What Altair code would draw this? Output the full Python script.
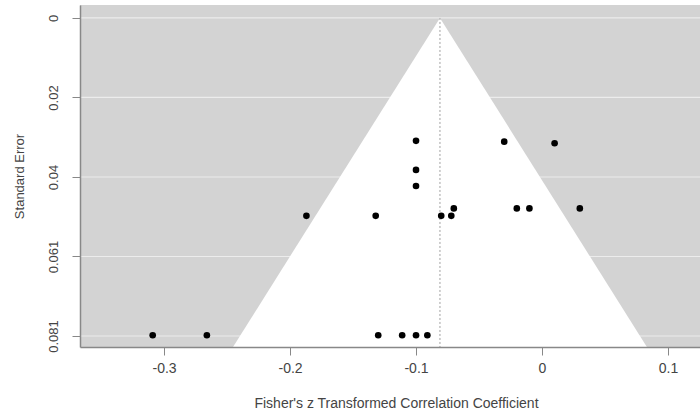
import json
import altair as alt
import pandas as pd

# ---- data ----
estimates = [-0.100, -0.030, 0.010, -0.100, -0.100,
             -0.070, -0.020, -0.010, 0.030,
             -0.187, -0.132, -0.080, -0.072,
             -0.309, -0.266, -0.130, -0.111, -0.100, -0.091]
std_errors = [0.0313, 0.0315, 0.0319, 0.0387, 0.0428,
              0.0485, 0.0485, 0.0485, 0.0485,
              0.0504, 0.0504, 0.0504, 0.0504,
              0.0808, 0.0808, 0.0808, 0.0808, 0.0808, 0.0808]

pooled = -0.081          # funnel centre (summary estimate)
z_crit = 1.96

y_ticks = [0, 0.02025, 0.0405, 0.06075, 0.081]
y_labels = ["0", "0.02", "0.04", "0.061", "0.081"]
x_ticks = [-0.3, -0.2, -0.1, 0, 0.1]
x_labels = ["-0.3", "-0.2", "-0.1", "0", "0.1"]

x_domain = [-0.3667, 0.1254]
y_domain = [-0.0033, 0.0838]

# ---- tables ----
points = pd.DataFrame({"est": estimates, "se": std_errors})
se_max = y_domain[1]
funnel = pd.DataFrame({
    "se": [0.0, se_max],
    "lo": [pooled, pooled - z_crit * se_max],
    "hi": [pooled, pooled + z_crit * se_max],
})
centre = pd.DataFrame({"c": [pooled], "s0": [0.0], "s1": [se_max]})
grid = pd.DataFrame({"v": y_ticks})

TXT = "#444444"
FONT = "Liberation Sans"

xscale = alt.Scale(domain=x_domain, nice=False, zero=False)
yscale = alt.Scale(domain=y_domain, nice=False, zero=False, reverse=True)

xaxis = alt.Axis(
    values=x_ticks,
    labelExpr=f"{json.dumps(x_labels)}[indexof({json.dumps(x_ticks)}, datum.value)]",
    title="Fisher's z Transformed Correlation Coefficient",
    titleFont=FONT, titleFontSize=14, titleFontWeight="normal", titleColor=TXT,
    titleX=316, titleY=56, titleAnchor="middle", titleAlign="center", titleBaseline="middle",
    labelFont=FONT, labelFontSize=14, labelColor=TXT, labelPadding=6,
    tickSize=8, tickColor="#888888", domainColor="#888888", domainWidth=1.5,
    grid=False, zindex=1,
)
yaxis = alt.Axis(
    values=y_ticks,
    labelExpr=f"{json.dumps(y_labels)}[indexof({json.dumps(y_ticks)}, datum.value)]",
    title="Standard Error",
    titleFont=FONT, titleFontSize=13, titleFontWeight="normal", titleColor=TXT,
    titleAngle=270, titleX=-61, titleY=171, titleAlign="center", titleBaseline="middle",
    labelFont=FONT, labelFontSize=13, labelColor=TXT, labelAngle=270,
    labelAlign="center", labelBaseline="bottom", labelPadding=12,
    tickSize=8, tickColor="#888888", domainColor="#888888", domainWidth=1.5,
    grid=False, zindex=1,
)

gridlines = alt.Chart(grid).mark_rule(color="#ececec", strokeWidth=1.2).encode(
    y=alt.Y("v:Q", scale=yscale, axis=yaxis)
)

funnel_area = alt.Chart(funnel).mark_area(orient="horizontal", color="white", opacity=1).encode(
    y=alt.Y("se:Q", scale=yscale, axis=yaxis),
    x=alt.X("lo:Q", scale=xscale, axis=xaxis),
    x2="hi:Q",
)

centre_line = alt.Chart(centre).mark_rule(color="#a0a0a0", strokeDash=[2, 2], strokeWidth=1).encode(
    x=alt.X("c:Q", scale=xscale, axis=xaxis),
    y=alt.Y("s0:Q", scale=yscale, axis=yaxis),
    y2="s1:Q",
)

dots = alt.Chart(points).mark_circle(color="black", size=44, opacity=1).encode(
    x=alt.X("est:Q", scale=xscale, axis=xaxis),
    y=alt.Y("se:Q", scale=yscale, axis=yaxis),
)

chart = alt.layer(gridlines, funnel_area, centre_line, dots).properties(
    width=620,
    height=342,
    autosize=alt.AutoSizeParams(type="none"),
    padding={"left": 80, "top": 5, "right": 0, "bottom": 65},
    background="white",
).configure_view(fill="#d3d3d3", stroke=None)

chart.save("out.html", embed_options={"renderer": "svg", "actions": False})
